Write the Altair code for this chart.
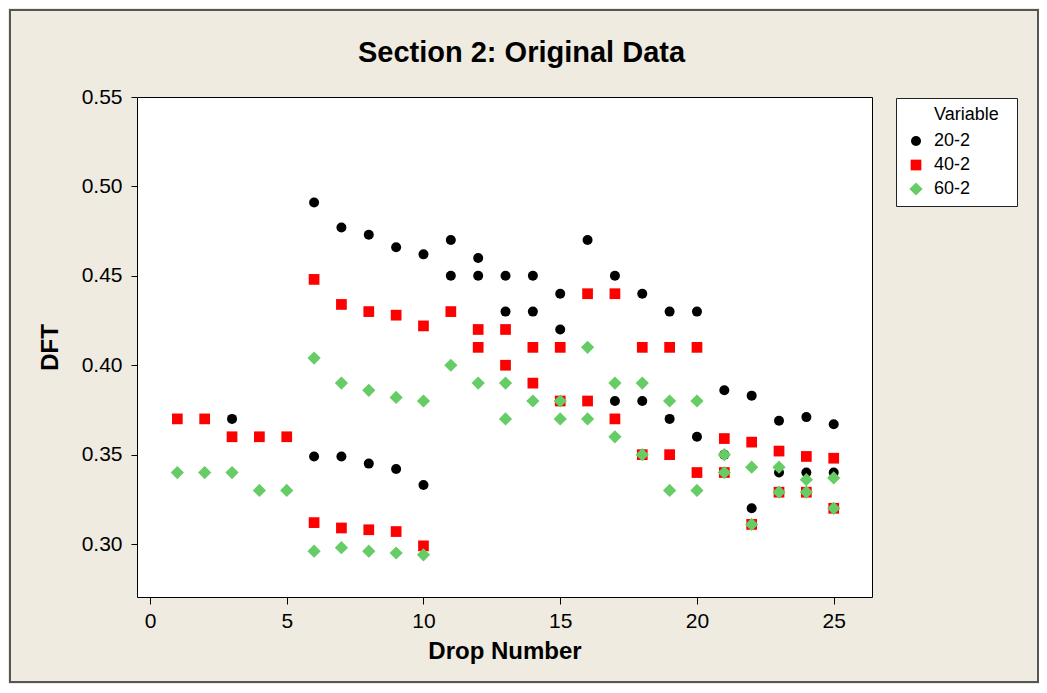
import altair as alt
import pandas as pd

FONT = "Liberation Sans"

series_names = ["20-2", "40-2", "60-2"]
series_colors = ["#000000", "#ff0000", "#66cc66"]
series_shapes = ["circle", "square", "diamond"]
series_sizes = [100, 115, 175]

x_20 = [3, 6, 6, 7, 7, 8, 8, 9, 9, 10, 10, 11, 11, 12, 12, 13, 13, 14, 14, 15, 15, 16,
        17, 17, 18, 18, 19, 19, 20, 20, 21, 21, 22, 22, 23, 23, 24, 24, 25, 25]
y_20 = [0.370, 0.491, 0.349, 0.477, 0.349, 0.473, 0.345, 0.466, 0.342, 0.462, 0.333,
        0.470, 0.450, 0.460, 0.450, 0.450, 0.430, 0.450, 0.430, 0.440, 0.420, 0.470,
        0.450, 0.380, 0.440, 0.380, 0.430, 0.370, 0.430, 0.360, 0.386, 0.350,
        0.383, 0.320, 0.369, 0.340, 0.371, 0.340, 0.367, 0.340]

x_40 = [1, 2, 3, 4, 5, 6, 6, 7, 7, 8, 8, 9, 9, 10, 10, 11, 12, 12, 13, 13, 14, 14, 15, 15,
        16, 16, 17, 17, 18, 18, 19, 19, 20, 20, 21, 21, 22, 22, 23, 23, 24, 24, 25, 25]
y_40 = [0.370, 0.370, 0.360, 0.360, 0.360, 0.448, 0.312, 0.434, 0.309, 0.430, 0.308,
        0.428, 0.307, 0.422, 0.299, 0.430, 0.420, 0.410, 0.420, 0.400, 0.410, 0.390,
        0.410, 0.380, 0.440, 0.380, 0.440, 0.370, 0.410, 0.350, 0.410, 0.350,
        0.410, 0.340, 0.359, 0.340, 0.357, 0.311, 0.352, 0.329, 0.349, 0.329, 0.348, 0.320]

x_60 = [1, 2, 3, 4, 5, 6, 6, 7, 7, 8, 8, 9, 9, 10, 10, 11, 12, 13, 13, 14, 15, 15,
        16, 16, 17, 17, 18, 18, 19, 19, 20, 20, 21, 21, 22, 22, 23, 23, 24, 24, 25, 25]
y_60 = [0.340, 0.340, 0.340, 0.330, 0.330, 0.404, 0.296, 0.390, 0.298, 0.386, 0.296,
        0.382, 0.295, 0.380, 0.294, 0.400, 0.390, 0.390, 0.370, 0.380, 0.380, 0.370,
        0.410, 0.370, 0.390, 0.360, 0.390, 0.350, 0.380, 0.330, 0.380, 0.330,
        0.350, 0.340, 0.343, 0.311, 0.343, 0.329, 0.336, 0.329, 0.337, 0.320]

x_ticks = [0, 5, 10, 15, 20, 25]
y_ticks = [0.30, 0.35, 0.40, 0.45, 0.50, 0.55]

rows = []
for name, xs, ys in zip(series_names, [x_20, x_40, x_60], [y_20, y_40, y_60]):
    for xv, yv in zip(xs, ys):
        rows.append({"Drop": xv, "DFT": yv, "Variable": name})
df = pd.DataFrame(rows)

NB = "\u00a0"
ZW = "\u200b"
legend = alt.Legend(
    title=ZW + NB * 6 + "Variable" + NB * 2 + ZW,
    orient="none", legendX=759, legendY=1,
    fillColor="white", strokeColor="#222222", padding=8,
    titleFont=FONT, titleFontSize=18, titleFontWeight="normal", titleColor="black",
    labelFont=FONT, labelFontSize=18, labelColor="black", labelOffset=9,
    symbolOffset=3,
    rowPadding=6, titlePadding=8, symbolStrokeWidth=0,
)

points = alt.Chart(df).mark_point(filled=True, opacity=1, strokeWidth=0).encode(
    x=alt.X("Drop:Q", title="Drop Number",
            scale=alt.Scale(domain=[-0.475, 26.4], nice=False, zero=False),
            axis=alt.Axis(values=x_ticks, tickSize=7, labelPadding=6, titlePadding=8)),
    y=alt.Y("DFT:Q", title="DFT",
            scale=alt.Scale(domain=[0.2704, 0.55], nice=False, zero=False),
            axis=alt.Axis(values=y_ticks, format=".2f", tickSize=6, labelPadding=9,
                          titlePadding=19)),
    color=alt.Color("Variable:N", scale=alt.Scale(domain=series_names, range=series_colors),
                    legend=legend),
    shape=alt.Shape("Variable:N", scale=alt.Scale(domain=series_names, range=series_shapes),
                    legend=legend),
    size=alt.Size("Variable:N",
                  scale=alt.Scale(type="ordinal", domain=series_names, range=series_sizes),
                  legend=legend),
)

frame = alt.Chart(pd.DataFrame({"k": [0]})).mark_rect(
    fill="transparent", stroke="#555555", strokeWidth=2
).encode(
    x=alt.value(-127), y=alt.value(-87), x2=alt.value(901), y2=alt.value(585)
)

chart = alt.layer(frame, points).properties(
    width=735, height=500,
    title=alt.TitleParams("Section 2: Original Data", dx=17, dy=89),
    padding={"left": 129, "top": 89, "right": 167, "bottom": 87},
    autosize=alt.AutoSizeParams(type="none"),
).configure(
    background="#efebe1",
).configure_view(
    fill="white", stroke="black", strokeWidth=1,
).configure_axis(
    domain=False, grid=False, tickColor="black", tickWidth=1,
    labelFont=FONT, labelFontSize=21, labelColor="black",
    titleFont=FONT, titleFontSize=24, titleFontWeight="bold", titleColor="black",
).configure_title(
    font=FONT, fontSize=29, fontWeight="bold", color="black", anchor="middle", offset=30,
)

chart.save("out.html", embed_options={"renderer": "svg", "actions": False})
